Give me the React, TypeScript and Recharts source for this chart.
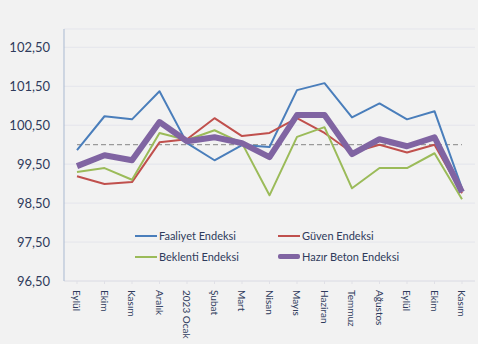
import { LineChart, Line, XAxis, YAxis, CartesianGrid } from "recharts";

const months = [
  "Eylül", "Ekim", "Kasım", "Aralık", "2023 Ocak", "Şubat", "Mart", "Nisan",
  "Mayıs", "Haziran", "Temmuz", "Ağustos", "Eylül", "Ekim", "Kasım",
];
const faaliyet = [99.86, 100.73, 100.65, 101.37, 100.04, 99.6, 99.99, 99.94, 101.4, 101.58, 100.7, 101.06, 100.65, 100.86, 98.88];
const guven = [99.19, 98.99, 99.04, 100.06, 100.14, 100.68, 100.22, 100.3, 100.68, 100.3, 99.8, 100.0, 99.8, 100.0, 98.75];
const beklenti = [99.3, 99.4, 99.1, 100.3, 100.12, 100.37, 100.04, 98.7, 100.2, 100.45, 98.88, 99.4, 99.4, 99.78, 98.6];
const hazirBeton = [99.45, 99.73, 99.6, 100.58, 100.09, 100.19, 100.04, 99.68, 100.76, 100.76, 99.76, 100.14, 99.96, 100.19, 98.78];
const baseline = [100, 100, 100, 100, 100, 100, 100, 100, 100, 100, 100, 100, 100, 100, 100];
const yTicks = [96.5, 97.5, 98.5, 99.5, 100.5, 101.5, 102.5];

const data = months.map((m, i) => ({
  month: m,
  faaliyet: faaliyet[i],
  guven: guven[i],
  beklenti: beklenti[i],
  hazir: hazirBeton[i],
  base: baseline[i],
}));

const textColor = "#2f3b5c";
const font = "Lato, 'Open Sans', sans-serif";

const series = [
  { key: "faaliyet", name: "Faaliyet Endeksi", color: "#4a7ebb", width: 2 },
  { key: "guven", name: "Güven Endeksi", color: "#c0504d", width: 2 },
  { key: "beklenti", name: "Beklenti Endeksi", color: "#9bbb59", width: 2 },
  { key: "hazir", name: "Hazır Beton Endeksi", color: "#8064a2", width: 6 },
];

function MonthTick(props: any) {
  const { x, y, payload } = props;
  return (
    <text
      transform={`translate(${x},${y + 4}) rotate(90)`}
      textAnchor="start"
      dominantBaseline="central"
      fill={textColor}
      fontSize={10}
      fontFamily={font}
    >
      {payload.value}
    </text>
  );
}

function LegendBox() {
  return (
    <div
      style={{
        position: "absolute",
        left: 135,
        top: 228,
        display: "grid",
        gridTemplateColumns: "143px 170px",
        rowGap: 6,
        fontFamily: font,
        fontSize: 11,
        color: textColor,
      }}
    >
      {series.map((s) => (
        <div key={s.key} style={{ display: "flex", alignItems: "center", height: 15 }}>
          <span
            style={{
              display: "inline-block",
              width: 22,
              height: s.width > 2 ? 5 : 2,
              background: s.color,
              borderRadius: s.width > 2 ? 2 : 0,
              marginRight: 2,
            }}
          />
          <span>{s.name}</span>
        </div>
      ))}
    </div>
  );
}

export default function App() {
  return (
    <div style={{ position: "absolute", left: 0, top: 0, width: 478, height: 344, background: "#f2f2f2" }}>
      <LineChart width={478} height={344} data={data} margin={{ top: 29, right: 3, bottom: 0, left: 0 }}>
        <CartesianGrid stroke="#e4e5ec" vertical={false} />
        <XAxis
          dataKey="month"
          interval={0}
          height={63}
          padding={{ left: 13, right: 13 }}
          tick={<MonthTick />}
          tickLine={{ stroke: "#e0e0e6" }}
          tickSize={3}
          axisLine={{ stroke: "#e0e0e6" }}
        />
        <YAxis
          domain={[96.5, 102.97]}
          ticks={yTicks}
          width={64}
          tickLine={false}
          tickSize={0}
          tickMargin={14}
          axisLine={{ stroke: "#a9b9d1" }}
          tick={{ fill: textColor, fontSize: 13, fontFamily: font }}
          tickFormatter={(v: number) => v.toFixed(2).replace(".", ",")}
          allowDataOverflow
        />
        <Line
          dataKey="base"
          stroke="#9a9a9a"
          strokeWidth={1.3}
          strokeDasharray="5 3"
          dot={false}
          legendType="none"
          isAnimationActive={false}
        />
        {series.map((s) => (
          <Line
            key={s.key}
            dataKey={s.key}
            name={s.name}
            stroke={s.color}
            strokeWidth={s.width}
            dot={false}
            strokeLinejoin="round"
            isAnimationActive={false}
          />
        ))}
      </LineChart>
      <LegendBox />
    </div>
  );
}
